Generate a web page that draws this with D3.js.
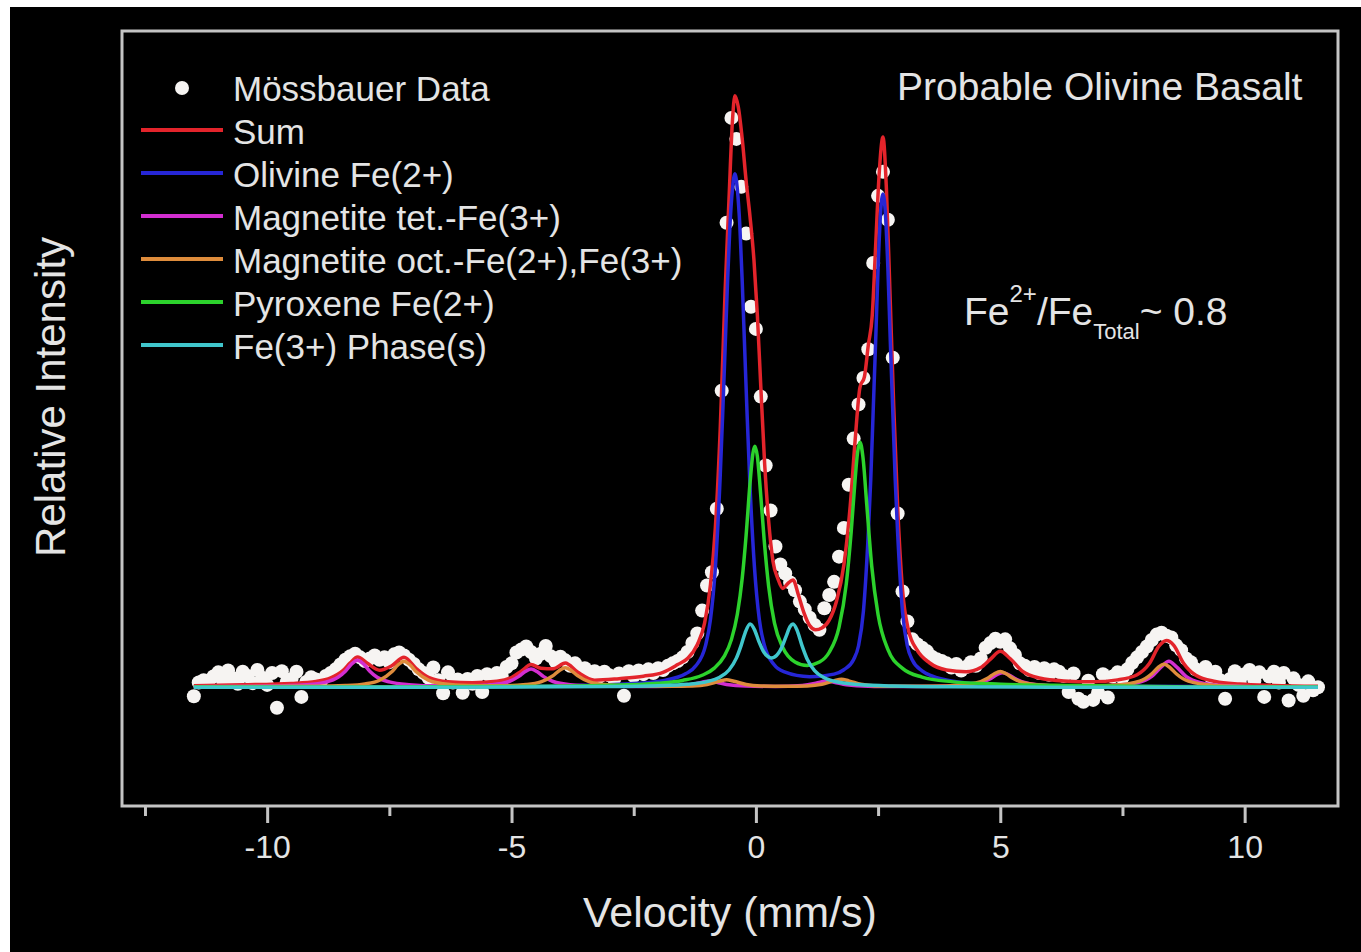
<!DOCTYPE html>
<html>
<head>
<meta charset="utf-8">
<script src="https://cdn.jsdelivr.net/npm/d3@7"></script>
<style>
  html, body { margin: 0; padding: 0; background: #fff; }
  svg { display: block; }
  text { font-family: "Liberation Sans", Arial, Helvetica, sans-serif; fill: #e4e4e4; }
</style>
</head>
<body>
<div id="chart"></div>
<script>
// axis ranges (velocity in mm/s, relative intensity in %)
const velocityDomain = [-12.97, 11.91];
const intensityDomain = [-19.8, 109.5];
const velocityTicks = [-10, -5, 0, 5, 10];
const minorTicks = [-12.5, -7.5, -2.5, 2.5, 7.5];

// measured spectrum, one point per channel
const mossbauerData = [
  [-11.5,-1.5],[-11.4,0.8],[-11.3,1.2],[-11.2,0.9],[-11.1,1.8],[-11.0,2.5],[-10.9,1.0],[-10.8,2.8],[-10.7,1.5],[-10.6,0.6],
  [-10.5,2.6],[-10.4,1.9],[-10.3,0.7],[-10.2,2.9],[-10.1,1.6],[-10.0,0.4],[-9.9,2.4],[-9.8,-3.4],[-9.7,2.7],[-9.6,0.9],
  [-9.5,1.4],[-9.4,2.6],[-9.3,-1.6],[-9.2,0.9],[-9.1,1.7],[-9.0,1.3],[-8.9,1.0],[-8.8,1.9],[-8.7,2.4],[-8.6,3.0],
  [-8.5,3.8],[-8.4,4.6],[-8.3,5.2],[-8.2,5.6],[-8.1,5.0],[-8.0,4.4],[-7.9,4.8],[-7.8,5.3],[-7.7,4.6],[-7.6,5.0],
  [-7.5,4.2],[-7.4,5.5],[-7.3,5.8],[-7.2,5.3],[-7.1,4.6],[-7.0,3.9],[-6.9,3.0],[-6.8,2.4],[-6.7,1.6],[-6.6,3.3],
  [-6.5,1.2],[-6.4,-1.0],[-6.3,2.5],[-6.2,0.8],[-6.1,1.3],[-6.0,-0.9],[-5.9,1.4],[-5.8,0.6],[-5.7,1.9],[-5.6,-0.8],
  [-5.5,2.2],[-5.4,1.6],[-5.3,2.4],[-5.2,1.9],[-5.1,3.4],[-5.0,4.0],[-4.9,5.8],[-4.8,6.3],[-4.7,6.8],[-4.6,5.9],
  [-4.5,4.8],[-4.4,5.6],[-4.3,6.9],[-4.2,5.2],[-4.1,4.3],[-4.0,5.1],[-3.9,4.5],[-3.8,3.6],[-3.7,4.0],[-3.6,2.9],
  [-3.5,3.2],[-3.4,2.5],[-3.3,2.7],[-3.2,1.8],[-3.1,2.6],[-3.0,2.0],[-2.9,1.4],[-2.8,2.3],[-2.7,-1.4],[-2.6,2.7],
  [-2.5,1.9],[-2.4,2.8],[-2.3,2.2],[-2.2,3.0],[-2.1,2.4],[-2.0,3.2],[-1.9,2.9],[-1.8,3.6],[-1.7,4.0],[-1.6,4.4],
  [-1.5,5.0],[-1.4,5.9],[-1.3,7.4],[-1.2,9.0],[-1.1,12.8],[-1.0,17.0],[-0.9,19.2],[-0.8,29.8],[-0.7,49.5],[-0.6,77.5],
  [-0.5,95.0],[-0.4,91.5],[-0.3,83.5],[-0.2,75.7],[-0.1,63.5],[0.0,59.8],[0.1,48.5],[0.2,37.0],[0.3,29.5],[0.4,23.5],
  [0.5,20.5],[0.6,19.0],[0.7,17.5],[0.8,16.2],[0.9,14.3],[1.0,13.0],[1.1,11.6],[1.2,10.4],[1.3,9.6],[1.4,13.2],
  [1.5,15.4],[1.6,17.6],[1.7,21.8],[1.8,26.6],[1.9,33.8],[2.0,41.5],[2.1,47.2],[2.2,51.6],[2.3,56.4],[2.4,70.8],
  [2.5,82.0],[2.6,86.0],[2.7,78.0],[2.8,55.0],[2.9,29.0],[3.0,16.0],[3.1,11.0],[3.2,8.0],[3.3,7.2],[3.4,6.6],
  [3.5,6.0],[3.6,5.1],[3.7,4.7],[3.8,4.4],[3.9,4.0],[4.0,3.3],[4.1,3.9],[4.2,2.8],[4.3,3.4],[4.4,4.2],
  [4.5,3.6],[4.6,4.8],[4.7,6.6],[4.8,7.4],[4.9,8.1],[5.0,7.6],[5.1,8.0],[5.2,6.5],[5.3,5.4],[5.4,4.0],
  [5.5,3.6],[5.6,2.9],[5.7,3.4],[5.8,2.4],[5.9,3.2],[6.0,2.1],[6.1,3.0],[6.2,2.6],[6.3,1.9],[6.4,-0.8],
  [6.5,2.3],[6.6,-1.9],[6.7,-2.4],[6.8,1.1],[6.9,-2.1],[7.0,-0.9],[7.1,2.2],[7.2,-1.7],[7.3,1.8],[7.4,2.5],
  [7.5,1.6],[7.6,3.0],[7.7,4.1],[7.8,5.0],[7.9,5.9],[8.0,6.8],[8.1,7.9],[8.2,8.8],[8.3,9.1],[8.4,8.6],
  [8.5,8.3],[8.6,7.0],[8.7,6.2],[8.8,4.8],[8.9,4.2],[9.0,3.0],[9.1,2.7],[9.2,3.4],[9.3,1.8],[9.4,2.6],
  [9.5,1.2],[9.6,-1.9],[9.7,1.4],[9.8,2.7],[9.9,0.9],[10.0,2.2],[10.1,2.9],[10.2,1.1],[10.3,2.5],[10.4,-1.6],
  [10.5,1.8],[10.6,2.6],[10.7,0.8],[10.8,2.4],[10.9,-2.2],[11.0,1.5],[11.1,0.4],[11.2,-1.4],[11.3,1.0],[11.4,-0.5],
  [11.5,0.0]
];

// fitted curves, [velocity, intensity]
const sumCurve = [
  [-11.5,0.28],[-10.5,0.42],[-9.5,0.65],[-9.0,0.98],[-8.7,1.58],[-8.45,2.78],[-8.3,4.09],[-8.15,5.06],[-7.95,4.0],[-7.7,2.85],
  [-7.45,3.6],[-7.2,5.0],[-6.95,3.14],[-6.7,1.67],[-6.3,0.93],[-5.8,0.78],[-5.3,1.0],[-5.0,1.63],[-4.8,2.7],[-4.6,3.8],
  [-4.4,3.2],[-4.15,3.1],[-3.9,4.05],[-3.65,2.55],[-3.3,1.2],[-2.8,1.45],[-2.3,1.85],[-1.9,2.5],[-1.6,3.8],[-1.4,4.8],
  [-1.2,7.1],[-1.05,10.7],[-0.93,17.1],[-0.83,26.6],[-0.73,43.1],[-0.63,66.1],[-0.55,81.5],[-0.48,94.5],[-0.43,98.7],[-0.36,96.8],
  [-0.28,91.5],[-0.2,84.5],[-0.12,78.5],[-0.04,71.3],[0.03,62.1],[0.1,50.2],[0.18,37.1],[0.26,27.8],[0.35,21.0],[0.45,18.1],
  [0.55,16.5],[0.65,17.3],[0.76,17.9],[0.87,15.4],[0.98,12.5],[1.1,10.3],[1.22,9.6],[1.35,9.9],[1.5,11.2],[1.65,14.4],
  [1.8,20.4],[1.93,30.3],[2.03,41.2],[2.13,50.1],[2.22,51.8],[2.3,57.1],[2.38,62.0],[2.45,73.6],[2.52,85.4],[2.6,91.8],
  [2.67,83.2],[2.74,66.6],[2.82,46.9],[2.9,30.2],[3.0,16.3],[3.12,9.6],[3.3,6.2],[3.55,4.1],[3.9,2.9],[4.3,2.6],
  [4.6,3.3],[4.8,4.7],[5.0,6.0],[5.2,4.8],[5.45,2.7],[5.8,1.55],[6.3,1.06],[6.9,0.92],[7.4,1.24],[7.8,2.1],
  [8.05,3.96],[8.25,6.9],[8.4,7.8],[8.55,7.0],[8.75,4.0],[9.0,2.0],[9.4,0.98],[9.9,0.55],[10.6,0.32],[11.5,0.18]
];

const olivineCurve = [
  [-11.5,0.05],[-5.43,0.14],[-3.43,0.34],[-2.43,0.66],[-1.93,1.06],[-1.43,2.29],[-1.23,3.58],[-1.03,7.0],[-0.93,11.3],[-0.83,19.9],
  [-0.73,35.3],[-0.68,45.5],[-0.63,56.6],[-0.58,67.7],[-0.53,77.2],[-0.48,83.1],[-0.43,85.7],[-0.38,83.1],[-0.33,77.2],[-0.28,67.7],
  [-0.23,56.6],[-0.18,45.5],[-0.13,35.3],[-0.03,20.1],[0.07,11.3],[0.17,7.1],[0.37,3.8],[0.57,2.6],[1.1,1.76],[1.6,2.2],
  [1.8,2.93],[2.0,4.66],[2.1,6.94],[2.2,12.7],[2.3,25.8],[2.35,34.7],[2.4,46.2],[2.45,57.7],[2.5,70.0],[2.55,79.0],
  [2.6,82.3],[2.65,79.0],[2.7,70.0],[2.75,57.7],[2.8,46.2],[2.85,34.7],[2.9,25.7],[3.0,12.6],[3.1,6.85],[3.2,4.55],
  [3.4,2.75],[3.6,1.9],[4.1,0.94],[4.6,0.59],[5.6,0.34],[7.6,0.16],[11.5,0.06]
];

const magnetiteTetCurve = [
  [-11.5,0.1],[-10,0.2],[-9.2,0.43],[-8.8,0.87],[-8.55,1.68],[-8.4,2.7],[-8.27,3.9],[-8.15,4.5],[-8.03,3.9],[-7.9,2.7],
  [-7.75,1.68],[-7.5,0.9],[-7.1,0.45],[-6.5,0.25],[-5.9,0.27],[-5.4,0.43],[-5.05,0.97],[-4.85,1.82],[-4.72,2.64],[-4.6,3.05],
  [-4.48,2.64],[-4.35,1.82],[-4.15,0.97],[-3.8,0.43],[-3.2,0.2],[-2.4,0.13],[-1.7,0.19],[-1.3,0.47],[-1.1,0.85],[-0.95,1.05],
  [-0.8,0.85],[-0.6,0.47],[-0.2,0.2],[0.4,0.15],[0.95,0.31],[1.2,0.64],[1.35,0.95],[1.45,1.05],[1.6,0.85],[1.85,0.41],
  [2.3,0.16],[3.2,0.12],[4.0,0.21],[4.5,0.58],[4.8,1.45],[4.93,2.1],[5.05,2.45],[5.17,2.1],[5.3,1.45],[5.6,0.58],
  [6.1,0.24],[6.8,0.18],[7.3,0.31],[7.8,0.77],[8.1,1.83],[8.3,3.45],[8.45,4.33],[8.6,3.45],[8.8,1.83],[9.1,0.77],
  [9.6,0.28],[10.4,0.1],[11.5,0.05]
];

const magnetiteOctCurve = [
  [-11.5,0.08],[-10,0.15],[-9,0.17],[-8.4,0.29],[-8.0,0.57],[-7.7,1.18],[-7.45,2.59],[-7.32,3.76],[-7.2,4.35],[-7.08,3.76],
  [-6.95,2.59],[-6.7,1.2],[-6.4,0.6],[-5.9,0.29],[-5.2,0.26],[-4.7,0.46],[-4.4,0.9],[-4.15,1.94],[-4.02,2.81],[-3.9,3.25],
  [-3.78,2.81],[-3.65,1.94],[-3.4,0.9],[-3.1,0.46],[-2.5,0.2],[-1.8,0.16],[-1.3,0.24],[-1.0,0.48],[-0.75,1.01],[-0.6,1.25],
  [-0.45,1.01],[-0.2,0.48],[0.1,0.24],[0.6,0.18],[1.05,0.24],[1.35,0.51],[1.6,1.08],[1.75,1.34],[1.9,1.08],[2.15,0.51],
  [2.45,0.24],[3.0,0.16],[3.9,0.21],[4.5,0.72],[4.75,1.56],[4.88,2.27],[5.0,2.65],[5.12,2.27],[5.25,1.56],[5.5,0.72],
  [6.0,0.27],[6.7,0.2],[7.3,0.33],[7.85,1.03],[8.1,2.27],[8.23,3.31],[8.35,3.83],[8.47,3.31],[8.6,2.27],[8.85,1.03],
  [9.4,0.31],[10.2,0.1],[11.5,0.03]
];

const pyroxeneCurve = [
  [-11.5,0.04],[-8,0.06],[-5,0.13],[-3,0.33],[-2,0.68],[-1.5,1.15],[-1.1,2.01],[-0.85,3.2],[-0.65,5.15],[-0.5,8.0],
  [-0.38,12.2],[-0.28,18.2],[-0.2,25.4],[-0.12,34.1],[-0.06,39.1],[-0.02,40.2],[0.03,38.5],[0.09,33.0],[0.17,24.5],[0.26,16.9],
  [0.38,10.7],[0.55,6.65],[0.8,4.24],[1.05,3.65],[1.3,4.21],[1.5,5.85],[1.7,9.99],[1.85,17.3],[1.95,26.0],[2.03,34.7],
  [2.08,39.2],[2.13,40.9],[2.19,38.4],[2.27,30.3],[2.37,20.2],[2.5,12.1],[2.7,6.32],[3.0,3.17],[3.4,1.71],[4.0,0.95],
  [5,0.52],[6.5,0.29],[9,0.07],[11.5,0.04]
];

const fe3PhaseCurve = [
  [-11.5,0.01],[-6,0.03],[-3,0.12],[-2,0.26],[-1.4,0.5],[-1.0,0.95],[-0.75,1.64],[-0.55,2.89],[-0.4,4.87],[-0.3,7.05],
  [-0.22,9.1],[-0.12,10.55],[-0.03,9.63],[0.06,7.66],[0.15,6.05],[0.25,5.09],[0.32,4.9],[0.39,5.09],[0.46,5.67],[0.53,6.68],
  [0.62,8.55],[0.7,10.14],[0.76,10.55],[0.84,9.56],[0.94,7.05],[1.05,4.7],[1.2,2.8],[1.4,1.6],[1.7,0.85],[2.1,0.47],
  [2.8,0.22],[4,0.09],[6,0.03],[9,0.01],[11.5,0.01]
];

const fitSeries = [
  { label: 'Sum', color: '#e3242b', points: sumCurve },
  { label: 'Olivine Fe(2+)', color: '#2626d6', points: olivineCurve },
  { label: 'Magnetite tet.-Fe(3+)', color: '#d22ed0', points: magnetiteTetCurve },
  { label: 'Magnetite oct.-Fe(2+),Fe(3+)', color: '#de8c3c', points: magnetiteOctCurve },
  { label: 'Pyroxene Fe(2+)', color: '#2cd22c', points: pyroxeneCurve },
  { label: 'Fe(3+) Phase(s)', color: '#40c6cc', points: fe3PhaseCurve }
];

const layout = {
  width: 1361,
  height: 952,
  plot: { left: 122, top: 31, right: 1338, bottom: 806 },
  legend: { x: 141, lineLength: 82, textX: 233, firstRow: 88, rowStep: 43 }
};

const gray = '#c4c4c4';

const svg = d3.select('#chart')
  .append('svg')
  .attr('width', layout.width)
  .attr('height', layout.height);

// black canvas with the thin white border left/top
svg.append('rect')
  .attr('x', 10).attr('y', 7)
  .attr('width', layout.width - 10).attr('height', layout.height - 7)
  .attr('fill', '#000');

const x = d3.scaleLinear().domain(velocityDomain).range([layout.plot.left, layout.plot.right]);
const y = d3.scaleLinear().domain(intensityDomain).range([layout.plot.bottom, layout.plot.top]);

svg.append('clipPath').attr('id', 'plot-clip')
  .append('rect')
  .attr('x', layout.plot.left).attr('y', layout.plot.top)
  .attr('width', layout.plot.right - layout.plot.left)
  .attr('height', layout.plot.bottom - layout.plot.top);

const plot = svg.append('g').attr('clip-path', 'url(#plot-clip)');

plot.append('g')
  .selectAll('circle')
  .data(mossbauerData)
  .join('circle')
  .attr('cx', d => x(d[0]))
  .attr('cy', d => y(d[1]))
  .attr('r', 7)
  .attr('fill', '#f6f4f2');

const lineGenerator = d3.line()
  .x(d => x(d[0]))
  .y(d => y(d[1]))
  .curve(d3.curveMonotoneX);

plot.append('g')
  .selectAll('path')
  .data(fitSeries)
  .join('path')
  .attr('d', d => lineGenerator(d.points))
  .attr('fill', 'none')
  .attr('stroke', d => d.color)
  .attr('stroke-width', 3.5)
  .attr('stroke-linejoin', 'round');

// frame
svg.append('rect')
  .attr('x', layout.plot.left).attr('y', layout.plot.top)
  .attr('width', layout.plot.right - layout.plot.left)
  .attr('height', layout.plot.bottom - layout.plot.top)
  .attr('fill', 'none')
  .attr('stroke', gray)
  .attr('stroke-width', 3);

function styleAxis(g) {
  g.select('.domain').remove();
  g.selectAll('.tick line').attr('stroke', gray).attr('stroke-width', 3);
  g.selectAll('.tick text')
    .attr('fill', '#e0e0e0')
    .attr('font-size', 32)
    .attr('font-family', '"Liberation Sans", Arial, sans-serif');
}

svg.append('g')
  .attr('transform', `translate(0,${layout.plot.bottom})`)
  .call(d3.axisBottom(x).tickValues(minorTicks).tickSize(10).tickFormat(''))
  .call(styleAxis);

svg.append('g')
  .attr('transform', `translate(0,${layout.plot.bottom})`)
  .call(d3.axisBottom(x).tickValues(velocityTicks).tickSize(17).tickPadding(12).tickFormat(d => String(d)))
  .call(styleAxis);

svg.append('text')
  .attr('x', (layout.plot.left + layout.plot.right) / 2)
  .attr('y', 927)
  .attr('text-anchor', 'middle')
  .attr('font-size', 43)
  .text('Velocity (mm/s)');

svg.append('text')
  .attr('transform', `translate(65,397) rotate(-90)`)
  .attr('text-anchor', 'middle')
  .attr('font-size', 42)
  .text('Relative Intensity');

// legend
const legend = svg.append('g');
const { legend: lg } = layout;

legend.append('circle')
  .attr('cx', lg.x + lg.lineLength / 2)
  .attr('cy', lg.firstRow)
  .attr('r', 7)
  .attr('fill', '#f6f4f2');

legend.append('text')
  .attr('x', lg.textX)
  .attr('y', lg.firstRow + 12.5)
  .attr('font-size', 35)
  .text('Mössbauer Data');

const rows = legend.selectAll('g.row')
  .data(fitSeries)
  .join('g')
  .attr('class', 'row')
  .attr('transform', (d, i) => `translate(0,${lg.firstRow + lg.rowStep * (i + 1)})`);

rows.append('line')
  .attr('x1', lg.x).attr('x2', lg.x + lg.lineLength)
  .attr('y1', -1).attr('y2', -1)
  .attr('stroke', d => d.color)
  .attr('stroke-width', 4);

rows.append('text')
  .attr('x', lg.textX)
  .attr('y', 12.5)
  .attr('font-size', 35)
  .text(d => d.label);

// annotations
svg.append('text')
  .attr('x', 897)
  .attr('y', 100)
  .attr('font-size', 39)
  .text('Probable Olivine Basalt');

const ratio = svg.append('text')
  .attr('x', 964)
  .attr('y', 325)
  .attr('font-size', 39);
ratio.append('tspan').text('Fe');
ratio.append('tspan').attr('font-size', 24).attr('dy', -23).text('2+');
ratio.append('tspan').attr('dy', 23).text('/Fe');
ratio.append('tspan').attr('font-size', 22).attr('dy', 14).text('Total');
ratio.append('tspan').attr('dy', -14).text('~ 0.8');
</script>
</body>
</html>
